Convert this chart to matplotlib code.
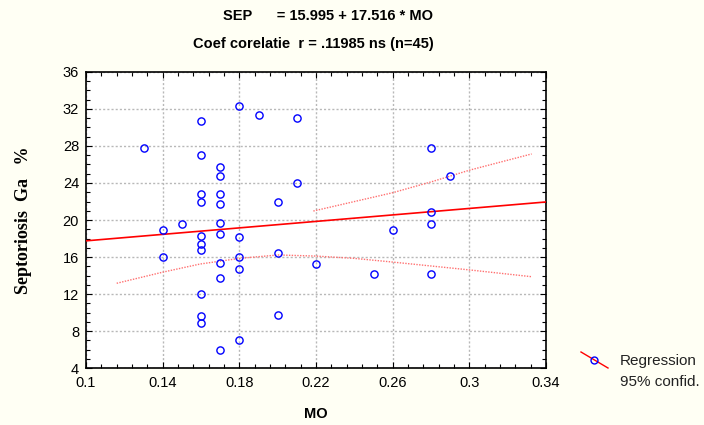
import matplotlib.pyplot as plt
from matplotlib.ticker import AutoMinorLocator

# data
mo = [0.13,
      0.14, 0.14,
      0.15,
      0.16, 0.16, 0.16, 0.16, 0.16, 0.16, 0.16, 0.16, 0.16, 0.16,
      0.17, 0.17, 0.17, 0.17, 0.17, 0.17, 0.17, 0.17, 0.17,
      0.18, 0.18, 0.18, 0.18, 0.18,
      0.19,
      0.20, 0.20, 0.20,
      0.21, 0.21,
      0.22,
      0.25,
      0.26,
      0.28, 0.28, 0.28, 0.28,
      0.29]
sep = [27.75,
       18.9, 16.0,
       19.6,
       30.7, 27.0, 22.8, 21.9, 18.27, 17.44, 16.76, 11.97, 9.59, 8.86,
       25.76, 24.72, 22.8, 21.76, 19.7, 18.5, 15.38, 13.76, 5.9,
       32.3, 18.13, 16.0, 14.67, 7.03,
       31.4,
       22.0, 16.4, 9.76,
       31.06, 24.0,
       15.27,
       14.13,
       18.9,
       27.75, 20.86, 19.6, 14.13,
       24.76]

intercept, slope = 15.995, 17.516
x_line = [0.1, 0.34]

# 95% band
low_x = [0.116, 0.1398, 0.1595, 0.1803, 0.2003, 0.22, 0.2395, 0.2577, 0.3003, 0.3325]
low_y = [13.16, 14.35, 15.24, 15.86, 16.22, 16.1, 15.86, 15.5, 14.6, 13.87]
up_x = [0.2186, 0.26, 0.2804, 0.3003, 0.3325]
up_y = [20.97, 22.95, 24.14, 25.4, 27.14]

bg = '#fffff4'
fig = plt.figure(figsize=(7.04, 4.25), dpi=100, facecolor=bg)
ax = fig.add_axes([0.1222, 0.1341, 0.6534, 0.6965])
ax.set_facecolor('white')

y_line = [intercept + slope * x for x in x_line]
ax.plot(x_line, y_line, color='red', lw=1.2, zorder=3)
ax.plot(low_x, low_y, color='#ff7070', lw=1.0, ls=(0, (1, 1)), zorder=3)
ax.plot(up_x, up_y, color='#ff7070', lw=1.0, ls=(0, (1, 1)), zorder=3)
ax.plot(mo, sep, ls='none', marker='o', ms=5.2, mfc='none', mec='blue', mew=1.0, zorder=4)

ax.set_xlim(0.1, 0.34)
ax.set_ylim(4, 36)
ax.set_xticks([0.1, 0.14, 0.18, 0.22, 0.26, 0.3, 0.34])
ax.set_xticklabels(['0.1', '0.14', '0.18', '0.22', '0.26', '0.3', '0.34'])
ax.set_yticks(range(4, 37, 4))
ax.xaxis.set_minor_locator(AutoMinorLocator(5))
ax.yaxis.set_minor_locator(AutoMinorLocator(4))
ax.tick_params(which='both', direction='in', top=True, right=True, length=3, width=0.8)
ax.tick_params(which='major', length=4, labelsize=10.5)
ax.tick_params(axis='x', which='major', pad=6)
ax.tick_params(axis='y', which='major', pad=5)
for lab in ax.get_xticklabels() + ax.get_yticklabels():
    lab.set_fontfamily('Liberation Sans')
ax.grid(True, which='major', color='#b8b8b8', ls=(0, (1.5, 1.5)), lw=1.0)
for s in ax.spines.values():
    s.set_linewidth(1.2)

ax.set_xlabel('MO', fontsize=10.5, fontweight='bold', family='Liberation Sans', labelpad=12)
ax.set_ylabel('Septoriosis  Ga   %', fontsize=13, fontweight='bold', family='Liberation Serif', labelpad=22)

fig.text(0.466, 0.962, 'SEP      = 15.995 + 17.516 * MO', ha='center', va='center',
         fontsize=10.5, fontweight='bold', family='Liberation Sans')
fig.text(0.445, 0.897, 'Coef corelatie  r = .11985 ns (n=45)', ha='center', va='center',
         fontsize=10.5, fontweight='bold', family='Liberation Sans')

# legend
fig.lines.append(plt.Line2D([581 / 704, 608 / 704], [1 - 352 / 425, 1 - 368 / 425],
                            transform=fig.transFigure, color='red', lw=1.0))
fig.lines.append(plt.Line2D([594 / 704], [1 - 360 / 425], transform=fig.transFigure,
                            ls='none', marker='o', ms=5, mfc='none', mec='blue', mew=1.0))
fig.text(620 / 704, 1 - 361 / 425, 'Regression', fontsize=11, va='center', family='Liberation Sans',
         color='#222222')
fig.text(620 / 704, 1 - 382 / 425, '95% confid.', fontsize=11, va='center', family='Liberation Sans',
         color='#222222')

fig.savefig('out.png', dpi=100, facecolor=bg)
